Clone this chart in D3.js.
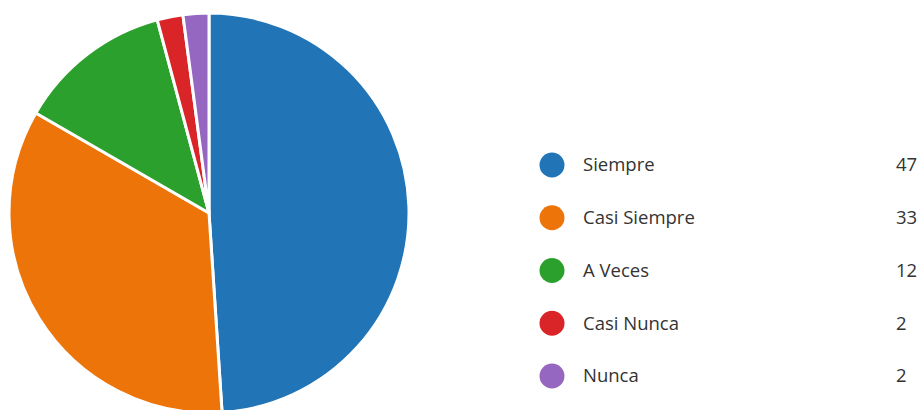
<!DOCTYPE html>
<html>
<head>
<meta charset="utf-8">
<script src="https://cdn.jsdelivr.net/npm/d3@7"></script>
<style>
  html, body { margin: 0; padding: 0; background: #fff; }
  svg { display: block; }
</style>
</head>
<body>
<svg id="chart" width="922" height="410"></svg>
<script>
const categories = ["Siempre", "Casi Siempre", "A Veces", "Casi Nunca", "Nunca"];
const counts = [47, 33, 12, 2, 2];
const colors = ["#2174b6", "#ec7408", "#2ca02c", "#d92428", "#9567c0"];

const svg = d3.select("#chart");
const cx = 209, cy = 213, r = 200;

const pie = d3.pie().sort(null).value(d => d.value);
const arc = d3.arc().innerRadius(0).outerRadius(r);
const data = categories.map((c, i) => ({ name: c, value: counts[i], color: colors[i] }));

svg.append("g")
  .attr("transform", `translate(${cx},${cy})`)
  .selectAll("path")
  .data(pie(data))
  .join("path")
  .attr("d", arc)
  .attr("fill", d => d.data.color)
  .attr("stroke", "#fff")
  .attr("stroke-width", 3)
  .attr("stroke-linejoin", "round");

// legend
const y = d3.scalePoint().domain(categories).range([165, 376]);
const font = "'Open Sans', 'Noto Sans', sans-serif";
const legend = svg.append("g");
const rows = legend.selectAll("g").data(data).join("g")
  .attr("transform", d => `translate(0,${y(d.name)})`);
rows.append("circle").attr("cx", 552).attr("cy", 0).attr("r", 12.5).attr("fill", d => d.color);
rows.append("text").attr("x", 583).attr("y", 0).attr("dy", "0.35em")
  .attr("font-family", font).attr("font-size", 18.5)
  .attr("fill", "#333").text(d => d.name);
rows.append("text").attr("x", 896).attr("y", 0).attr("dy", "0.35em")
  .attr("font-family", font).attr("font-size", 18.5)
  .attr("fill", "#333").text(d => d.value);
</script>
</body>
</html>
